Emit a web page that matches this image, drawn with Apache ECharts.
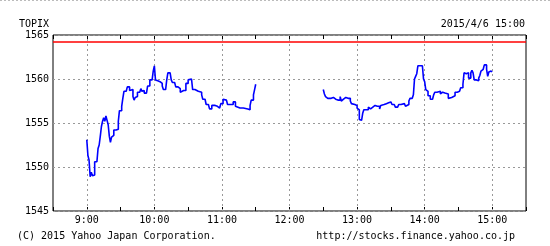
<!DOCTYPE html>
<html><head><meta charset="utf-8">
<script src="https://cdn.jsdelivr.net/npm/echarts@6/dist/echarts.min.js"></script>
<style>html,body{margin:0;padding:0;background:#fff}#c{width:550px;height:246px}</style>
</head><body><div id="c"></div>
<script>
// minutes since midnight
const morningTimes = [540,541,542,543,544,545,546,547,549,550,551,552,553,554,555,556,557,558,559,560,561,562,563,564,566,568,569,571,572,573,575,576,578,579,581,582,583,584,585,587,588,589,590,591,593,594,596,598,599,600,601,602,603,605,607,608,610,611,612,614,615,616,618,619,621,623,624,626,628,630,631,633,634,636,637,639,640,642,643,645,646,648,649,651,652,654,656,658,659,661,662,664,665,667,668,670,672,673,676,679,683,685,686,688,689,690];
const morningValues = [1553.1,1551.3,1550.8,1548.9,1549.4,1549.0,1549.1,1550.6,1550.5,1552.1,1552.5,1553.5,1554.6,1555.2,1555.6,1555.2,1555.8,1555.3,1554.8,1553.5,1552.8,1553.4,1553.6,1554.2,1554.3,1555.2,1556.4,1556.9,1557.8,1558.6,1558.8,1559.1,1558.7,1558.8,1558.0,1557.6,1557.9,1558.0,1558.5,1558.4,1558.9,1558.6,1558.7,1558.4,1558.6,1559.2,1559.9,1560.0,1560.9,1561.5,1559.9,1559.8,1559.7,1559.5,1559.2,1558.8,1558.9,1559.9,1560.7,1560.6,1559.9,1559.6,1559.5,1559.1,1558.9,1558.5,1558.7,1558.7,1559.5,1559.9,1560.0,1560.0,1558.8,1558.7,1558.6,1558.7,1558.5,1558.2,1557.7,1557.5,1557.1,1557.3,1556.6,1557.0,1557.0,1556.9,1556.7,1556.8,1557.2,1557.7,1557.6,1557.4,1557.1,1556.9,1557.1,1557.4,1556.9,1556.7,1556.7,1556.6,1556.5,1557.0,1557.6,1558.2,1558.8,1559.4];
const afternoonTimes = [750,751,752,753,754,755,757,758,759,761,763,764,765,766,767,768,770,772,773,774,775,776,778,780,781,782,783,784,785,786,788,790,791,792,794,796,798,800,801,802,804,806,807,808,810,811,813,814,816,817,819,820,822,823,824,826,827,829,830,831,832,833,834,836,838,839,840,841,842,843,845,847,848,849,851,852,854,855,856,858,859,861,862,864,865,867,869,871,872,874,875,876,877,878,879,880,881,882,883,884,886,887,888,889,890,891,892,893,894,895,896,897,898,899,900];
const afternoonValues = [1558.8,1558.3,1558.0,1557.8,1558.0,1557.8,1557.8,1557.9,1557.7,1557.6,1557.7,1557.6,1558.0,1557.5,1557.7,1557.9,1557.8,1557.9,1557.8,1557.5,1557.2,1557.1,1557.0,1556.7,1556.5,1555.4,1555.3,1555.4,1556.1,1556.5,1556.5,1556.8,1556.6,1556.8,1557.0,1556.9,1556.9,1556.6,1557.0,1557.1,1557.2,1557.2,1557.3,1557.4,1557.2,1557.1,1557.1,1556.8,1557.0,1557.1,1557.2,1557.2,1557.1,1556.9,1557.1,1557.5,1557.8,1557.8,1558.2,1560.0,1560.3,1560.6,1561.5,1561.5,1561.5,1560.0,1559.7,1558.8,1558.6,1558.1,1557.7,1557.7,1558.2,1558.5,1558.6,1558.6,1558.3,1558.5,1558.4,1558.3,1558.3,1557.8,1557.9,1558.0,1558.1,1558.5,1558.6,1558.8,1559.0,1559.4,1560.7,1560.6,1560.7,1560.7,1560.1,1560.1,1560.7,1561.0,1560.7,1559.9,1559.9,1559.8,1560.1,1560.4,1560.9,1561.1,1561.1,1561.6,1561.6,1561.1,1560.3,1560.8,1560.9,1560.8,1560.8];
const prevClose = 1564.2;
const hourLines = [540,600,660,720,780,840,900];
const yTicks = [1545,1550,1555,1560,1565];

const FONT = '"DejaVu Sans Mono", monospace';
const zip = (a,b) => a.map((t,i)=>[t,b[i]]);
const chart = echarts.init(document.getElementById('c'), null, {renderer:'canvas'});
const lineStyle = {color:'#0000ff', width:1.6};
chart.setOption({
  animation:false,
  backgroundColor:'#fff',
  grid:{left:53, right:24, top:35, bottom:35, show:true, borderColor:'#000', borderWidth:1, backgroundColor:'transparent'},
  xAxis:[{
    type:'value', min:510, max:930, interval:30, position:'bottom',
    axisLine:{show:false},
    axisTick:{show:true, inside:true, length:4, lineStyle:{color:'#000'}},
    splitLine:{show:false},
    axisLabel:{margin:4, color:'#000', fontFamily:FONT, fontSize:10,
      formatter:v=> (v%60===0 && v>=540 && v<=900) ? (v/60)+':00' : ''}
  },{
    type:'value', min:510, max:930, interval:30, position:'top',
    axisLine:{show:false},
    axisTick:{show:true, inside:true, length:4, lineStyle:{color:'#000'}},
    splitLine:{show:false}, axisLabel:{show:false}
  }],
  yAxis:{
    type:'value', min:yTicks[0], max:yTicks[yTicks.length-1], interval:5,
    axisLine:{show:false}, axisTick:{show:false},
    splitLine:{show:true, lineStyle:{color:'#999', type:[2,3], width:1}},
    axisLabel:{margin:4, color:'#000', fontFamily:FONT, fontSize:10, formatter:v=>String(v)}
  },
  series:[{
    type:'line', step:'end', showSymbol:false, symbol:'none',
    data:zip(morningTimes, morningValues), lineStyle:lineStyle, z:5,
    markLine:{silent:true, symbol:'none', animation:false,
      label:{show:false},
      data:[...hourLines.map(h=>({xAxis:h, lineStyle:{color:'#999', type:[2,3], width:1}})),
            {yAxis:prevClose, lineStyle:{color:'#ff0000', type:'solid', width:1.5}}]}
  },{
    type:'line', step:'end', showSymbol:false, symbol:'none',
    data:zip(afternoonTimes, afternoonValues), lineStyle:lineStyle, z:5
  }],
  graphic:[
    {type:'line', shape:{x1:0,y1:0.5,x2:550,y2:0.5}, style:{stroke:'#bbb', lineDash:[2,2], lineWidth:1}},
    {type:'text', left:19, top:19, style:{text:'TOPIX', font:'10px '+FONT, fill:'#000'}},
    {type:'text', right:25, top:19, style:{text:'2015/4/6 15:00', font:'10px '+FONT, fill:'#000'}},
    {type:'text', left:17, top:231, style:{text:'(C) 2015 Yahoo Japan Corporation.', font:'10px '+FONT, fill:'#000'}},
    {type:'text', right:35, top:231, style:{text:'http://stocks.finance.yahoo.co.jp', font:'10px '+FONT, fill:'#000'}}
  ]
});
</script></body></html>
